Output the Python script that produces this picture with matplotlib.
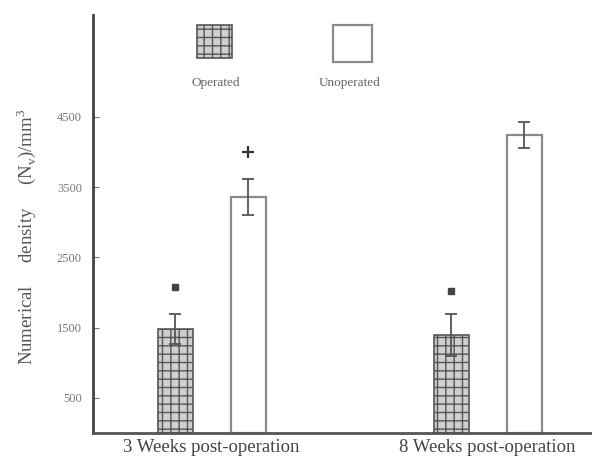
import matplotlib.pyplot as plt
import matplotlib.patches as mpatches

# 数据
groups = ["3 Weeks post-operation", "8 Weeks post-operation"]
operated = [1475, 1390]
operated_err = [215, 300]
unoperated = [3360, 4240]
unoperated_err = [260, 180]
y_ticks = [500, 1500, 2500, 3500, 4500]
# 显著性标记的高度
dot_y = [2075, 2020]
plus_y = [3995]

plt.rcParams['font.family'] = ['Liberation Serif', 'DejaVu Serif']

fig = plt.figure(figsize=(5.92, 4.61), dpi=100)
ax = fig.add_axes([93 / 592, 1 - 433 / 461, 499 / 592, 418 / 461])

x = list(range(len(groups)))
off = 0.132
w = 0.127
x_op = [i - off for i in x]
x_un = [i + off for i in x]

ax.bar(x_op, operated, width=w, facecolor='#cfcfcf', edgecolor='#555555',
       hatch='++', linewidth=1.2)
ax.bar(x_un, unoperated, width=w, facecolor='white', edgecolor='#8a8a8a',
       linewidth=1.6)
ax.errorbar(x_op, operated, yerr=operated_err, fmt='none', ecolor='#555555',
            elinewidth=1.3, capsize=4, capthick=1.3)
ax.errorbar(x_un, unoperated, yerr=unoperated_err, fmt='none', ecolor='#555555',
            elinewidth=1.3, capsize=4, capthick=1.3)

# 显著性标记
ax.plot(x_op, dot_y, linestyle='none', marker='s', markersize=4, color='#444444')
ax.plot(x_un[:1], plus_y, linestyle='none', marker='+', markersize=9,
        markeredgewidth=1.6, color='#333333')

ax.set_xlim(-0.430, 1.378)
ax.set_ylim(0, 5950)
ax.set_xticks(x)
ax.set_xticklabels(groups, fontsize=13.5, color='#444444')
ax.tick_params(axis='x', length=0, pad=4)
ax.set_yticks(y_ticks)
ax.set_yticklabels([str(v) for v in y_ticks], fontsize=9, color='#777777')
ax.tick_params(axis='y', direction='in', length=4, color='#777777', pad=8)

for s in ['top', 'right']:
    ax.spines[s].set_visible(False)
ax.spines['left'].set_linewidth(2)
ax.spines['left'].set_color('#444444')
ax.spines['bottom'].set_linewidth(2)
ax.spines['bottom'].set_color('#555555')

ax.set_ylabel(r"Numerical     density     (N$_\mathregular{v}$)/mm$^\mathregular{3}$",
              fontsize=13.5, color='#555555')
ax.yaxis.set_label_coords(-55 / 499, 0.47)

# 图例
leg_op = mpatches.Rectangle((197 / 592, 1 - 58 / 461), 35 / 592, 33 / 461,
                            transform=fig.transFigure, facecolor='#cfcfcf',
                            edgecolor='#555555', hatch='++', linewidth=1.2)
leg_un = mpatches.Rectangle((333 / 592, 1 - 62 / 461), 39 / 592, 37 / 461,
                            transform=fig.transFigure, facecolor='white',
                            edgecolor='#8a8a8a', linewidth=1.6)
fig.patches.extend([leg_op, leg_un])
fig.text(216 / 592, 1 - 83 / 461, "Operated", fontsize=9.5, color='#666666',
         ha='center', va='center')
fig.text(350 / 592, 1 - 83 / 461, "Unoperated", fontsize=9.5, color='#666666',
         ha='center', va='center')

plt.savefig("out.png", dpi=100)
